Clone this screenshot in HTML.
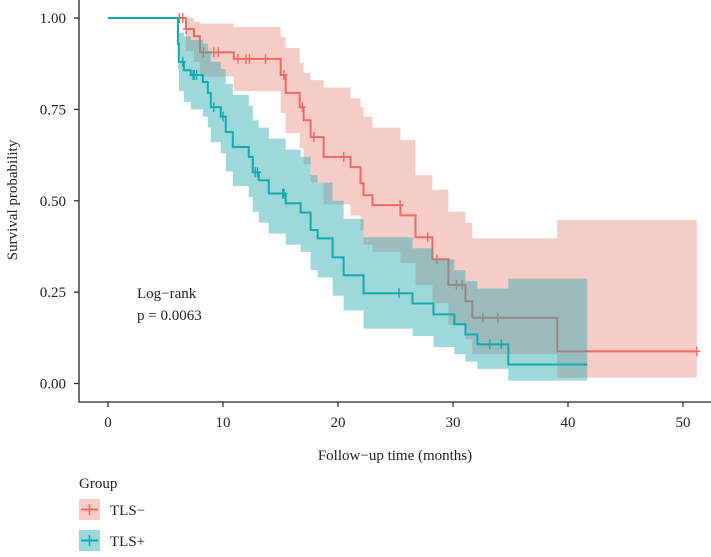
<!DOCTYPE html>
<html><head><meta charset="utf-8"><style>
body{margin:0;background:#fff}
svg text{font-family:"Liberation Serif",serif;fill:#222}
</style></head><body>
<svg id="chart" width="711" height="552" xmlns="http://www.w3.org/2000/svg">
<g id="layerNeg"></g>
<g id="layerPos"></g>
<g id="axes"></g>
<text x="137" y="298" font-size="15">Log−rank</text>
<text x="137" y="320" font-size="15">p = 0.0063</text>
<text x="395" y="460" font-size="15" text-anchor="middle">Follow−up time (months)</text>
<text transform="translate(17,200) rotate(-90)" font-size="15" text-anchor="middle">Survival probability</text>
<g>
<text x="79" y="488" font-size="15">Group</text>
<g>
<rect x="79" y="499" width="21" height="21" fill="#f08078" fill-opacity="0.4"/>
<line x1="81" y1="509.5" x2="98" y2="509.5" stroke="#ee6b61" stroke-width="2"/>
<line x1="89.5" y1="504" x2="89.5" y2="515" stroke="#ee6b61" stroke-width="1.5"/>
<text x="110" y="515" font-size="15">TLS−</text></g>
<g>
<rect x="79" y="530" width="21" height="21" fill="#20a8b0" fill-opacity="0.45"/>
<line x1="81" y1="540.5" x2="98" y2="540.5" stroke="#12aab2" stroke-width="2"/>
<line x1="89.5" y1="535" x2="89.5" y2="546" stroke="#12aab2" stroke-width="1.5"/>
<text x="110" y="546" font-size="15">TLS+</text></g>
</g>
</svg>
<script>
const negTimes=[0,6.77,7.47,7.99,10.94,15.02,15.45,16.67,17.01,17.62,18.75,21.09,21.96,22.22,23.0,25.43,26.74,28.21,29.6,31.08,31.68,39.06];
const negSurv=[1,0.97,0.95,0.906,0.888,0.844,0.795,0.756,0.72,0.674,0.62,0.592,0.548,0.515,0.488,0.46,0.40,0.34,0.27,0.225,0.18,0.088];
const negLower=[1,0.91,0.88,0.84,0.80,0.74,0.685,0.644,0.60,0.55,0.49,0.46,0.42,0.38,0.36,0.33,0.27,0.22,0.16,0.12,0.08,0.016];
const negUpper=[1,1,0.99,0.985,0.975,0.948,0.918,0.877,0.85,0.83,0.81,0.78,0.756,0.73,0.70,0.666,0.57,0.53,0.47,0.44,0.397,0.447];
const negEnd=51.2;
const negCensor=[6.2,6.5,6.8,8.3,9.2,9.6,11.3,12.0,12.3,13.7,15.3,16.9,17.9,20.5,25.4,27.8,28.6,30.3,30.8,32.6,33.9,51.2];
const posTimes=[0,6.08,6.16,6.6,7.2,8.25,8.68,8.94,9.81,10.24,10.85,12.24,12.59,13.11,13.98,15.45,16.75,17.62,18.23,19.53,20.49,22.22,26.48,28.3,30.12,31.08,32.12,34.81];
const posSurv=[1,0.93,0.88,0.857,0.844,0.825,0.795,0.756,0.73,0.688,0.647,0.62,0.578,0.556,0.52,0.493,0.468,0.42,0.397,0.345,0.296,0.247,0.219,0.189,0.162,0.134,0.107,0.052];
const posLower=[1,0.86,0.80,0.77,0.75,0.73,0.70,0.66,0.63,0.58,0.54,0.51,0.47,0.44,0.41,0.38,0.36,0.31,0.29,0.24,0.20,0.15,0.13,0.10,0.08,0.06,0.04,0.008];
const posUpper=[1,1,0.96,0.95,0.94,0.93,0.91,0.88,0.86,0.82,0.79,0.76,0.72,0.70,0.67,0.64,0.62,0.57,0.55,0.50,0.45,0.40,0.37,0.34,0.31,0.28,0.26,0.287];
const posEnd=41.67;
const posCensor=[6.5,7.4,7.5,7.7,9.2,10.0,12.8,13.0,15.2,15.3,25.3,33.2,34.2];
const xTicks=[0,10,20,30,40,50];
const yTicks=[0,0.25,0.5,0.75,1];
const yTickLabels=["0.00","0.25","0.50","0.75","1.00"];

const X=t=>108+t*11.5;
const Y=s=>383.5-s*365.5;
const NS="http://www.w3.org/2000/svg";
function mk(tag,parent,attrs){const e=document.createElementNS(NS,tag);for(const k in attrs)e.setAttribute(k,attrs[k]);parent.appendChild(e);return e;}
function stepAt(times,vals,t){let v=vals[0];for(let i=0;i<times.length;i++){if(times[i]<=t)v=vals[i];}return v;}
function drawGroup(layer,times,surv,lo,hi,end,cens,col,fill,op,name){
  let up='',dn='';
  for(let i=0;i<times.length;i++){const t1=i+1<times.length?times[i+1]:end;
    up+=(i?'L':'M')+X(times[i])+','+Y(hi[i])+'L'+X(t1)+','+Y(hi[i]);}
  for(let i=times.length-1;i>=0;i--){const t1=i+1<times.length?times[i+1]:end;
    dn+='L'+X(t1)+','+Y(lo[i])+'L'+X(times[i])+','+Y(lo[i]);}
  const b=mk('path',layer,{d:up+dn+'Z',fill:fill,'fill-opacity':op});
  
  
  let d='M'+X(0)+','+Y(surv[0]);
  for(let i=1;i<times.length;i++){d+='L'+X(times[i])+','+Y(surv[i-1])+'L'+X(times[i])+','+Y(surv[i]);}
  d+='L'+X(end)+','+Y(surv[surv.length-1]);
  const l=mk('path',layer,{d:d,fill:'none',stroke:col,'stroke-width':2});
  
  
  cens.forEach(t=>{const s=stepAt(times,surv,t);
    const c=mk('path',layer,{d:'M'+X(t)+','+(Y(s)-5)+'V'+(Y(s)+5)+'M'+(X(t)-3.5)+','+Y(s)+'H'+(X(t)+3.5),stroke:col,'stroke-width':1.4});
    
    });
}
drawGroup(document.getElementById('layerNeg'),negTimes,negSurv,negLower,negUpper,negEnd,negCensor,'#ee6b61','#ec8f86',0.45,'tls-neg');
drawGroup(document.getElementById('layerPos'),posTimes,posSurv,posLower,posUpper,posEnd,posCensor,'#12aab2','#2aa9b0',0.45,'tls-pos');
const ax=document.getElementById('axes');
const ya=mk('line',ax,{x1:79,y1:0,x2:79,y2:402,stroke:'#222','stroke-width':1.3});


const xa=mk('line',ax,{x1:78.5,y1:402,x2:711,y2:402,stroke:'#222','stroke-width':1.3});


xTicks.forEach(v=>{mk('line',ax,{x1:X(v),y1:402,x2:X(v),y2:407,stroke:'#222','stroke-width':1.2});
  const t=mk('text',ax,{x:X(v),y:427,'font-size':15,'text-anchor':'middle'});t.textContent=v;
  
  });
yTicks.forEach((v,i)=>{mk('line',ax,{x1:74,y1:Y(v),x2:79,y2:Y(v),stroke:'#222','stroke-width':1.2});
  const t=mk('text',ax,{x:66,y:Y(v)+5,'font-size':15,'text-anchor':'end'});t.textContent=yTickLabels[i];
  
  });
</script>
</body></html>
